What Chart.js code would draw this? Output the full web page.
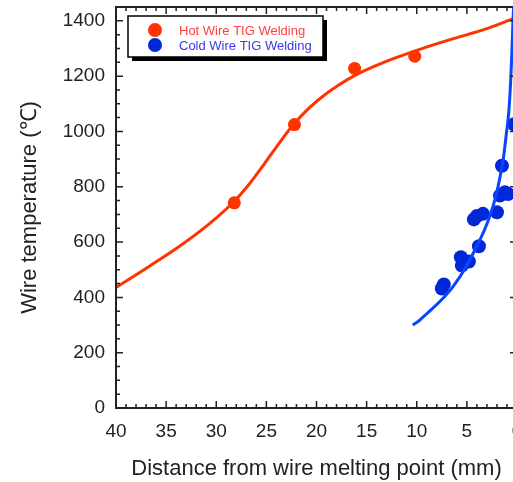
<!DOCTYPE html>
<html>
<head>
<meta charset="utf-8">
<script src="https://cdn.jsdelivr.net/npm/chart.js@4/dist/chart.umd.min.js"></script>
<style>
  html, body { margin: 0; padding: 0; background: #fff; overflow: hidden; }
  #wrap { width: 513px; height: 482px; overflow: hidden; }
  #box { width: 560px; height: 482px; }
</style>
</head>
<body>
<div id="wrap"><div id="box"><canvas id="myChart"></canvas></div></div>
<script>
// axis ticks
var xTicks = [40, 35, 30, 25, 20, 15, 10, 5, 0];
var yTicks = [0, 200, 400, 600, 800, 1000, 1200, 1400];

// hot wire: measured points + fitted curve
var hotX = [28.2, 22.2, 16.2, 10.2];
var hotY = [742, 1025, 1228, 1272];
var hotFitX = [40, 36.7, 33.7, 30.7, 28.3, 26.7, 25.2, 23.7, 22.3, 20.7, 19.2, 17.7, 16.2, 14.2, 12.2, 9.7, 6.4, 3.0, 0.5, 0];
var hotFitY = [436, 512, 584, 666, 744, 810, 883, 959, 1025, 1086, 1132, 1170, 1202, 1236, 1265, 1297, 1335, 1372, 1406, 1414];

// cold wire: measured points + fitted curve
var coldX = [7.5, 7.3, 5.6, 5.5, 4.8, 3.8, 4.3, 4.0, 3.4, 2.0, 1.7, 1.2, 0.9, 1.5, 0.3];
var coldY = [432, 447, 545, 515, 530, 585, 682, 694, 702, 708, 768, 780, 774, 876, 1026];
var coldFitX = [10.4, 9.7, 6.4, 3.7, 2.4, 1.5, 1.1, 0.8, 0.55, 0.4, 0.3];
var coldFitY = [300, 318, 438, 608, 728, 872, 980, 1080, 1250, 1400, 1480];

var hotColor = '#ff3300';
var coldColor = '#0028d8';
var coldLine = '#0a44ff';
var font = '"Liberation Sans", Arial, sans-serif';

function pts(xs, ys) {
  return xs.map(function (x, i) { return { x: x, y: ys[i] }; });
}

// frame + inward ticks on all four sides, and the boxed legend
var framePlugin = {
  id: 'frame',
  afterDraw: function (chart) {
    var ctx = chart.ctx;
    var a = chart.chartArea;
    var xs = chart.scales.x, ys = chart.scales.y;
    ctx.save();
    ctx.strokeStyle = '#222';
    ctx.lineWidth = 1.5;
    for (var v = 0; v <= 40; v++) {
      var px = xs.getPixelForValue(v);
      var len = v % 5 === 0 ? 7 : 4;
      ctx.beginPath();
      ctx.moveTo(px, a.bottom); ctx.lineTo(px, a.bottom - len);
      ctx.moveTo(px, a.top); ctx.lineTo(px, a.top + len);
      ctx.stroke();
    }
    for (var w = 0; w <= 1450; w += 50) {
      var py = ys.getPixelForValue(w);
      var l2 = w % 200 === 0 ? 7 : 4;
      ctx.beginPath();
      ctx.moveTo(a.left, py); ctx.lineTo(a.left + l2, py);
      ctx.moveTo(a.right, py); ctx.lineTo(a.right - l2, py);
      ctx.stroke();
    }
    ctx.lineWidth = 2;
    ctx.strokeRect(a.left, a.top, a.right - a.left, a.bottom - a.top);

    // legend box
    var bx = 128, by = 16, bw = 195, bh = 41;
    ctx.fillStyle = '#000';
    ctx.fillRect(bx + 4, by + 4, bw, bh);
    ctx.fillStyle = '#fff';
    ctx.fillRect(bx, by, bw, bh);
    ctx.lineWidth = 1.5;
    ctx.strokeStyle = '#000';
    ctx.strokeRect(bx, by, bw, bh);
    var items = [
      { label: chart.data.datasets[2].label, color: hotColor, text: '#ff4040' },
      { label: chart.data.datasets[1].label, color: coldColor, text: '#3a3ae6' }
    ];
    ctx.font = '13px ' + font;
    ctx.textBaseline = 'middle';
    items.forEach(function (it, i) {
      var cy = by + 14 + i * 15;
      ctx.fillStyle = it.color;
      ctx.beginPath();
      ctx.arc(bx + 27, cy, 7, 0, Math.PI * 2);
      ctx.fill();
      ctx.fillStyle = it.text;
      ctx.fillText(it.label, bx + 51, cy + 1);
    });
    ctx.restore();
  }
};

var config = {
  type: 'scatter',
  data: {
    datasets: [
      { label: 'Cold fit', data: pts(coldFitX, coldFitY), showLine: true, pointRadius: 0,
        borderColor: coldLine, borderWidth: 3, tension: 0.4, order: 0 },
      { label: 'Cold Wire TIG Welding', data: pts(coldX, coldY), pointRadius: 7,
        backgroundColor: coldColor, borderColor: coldColor, borderWidth: 0, order: 1 },
      { label: 'Hot Wire TIG Welding', data: pts(hotX, hotY), pointRadius: 6.5,
        backgroundColor: hotColor, borderColor: hotColor, borderWidth: 0, order: 2 },
      { label: 'Hot fit', data: pts(hotFitX, hotFitY), showLine: true, pointRadius: 0,
        borderColor: hotColor, borderWidth: 3, cubicInterpolationMode: 'monotone', order: 3 }
    ]
  },
  options: {
    responsive: true,
    maintainAspectRatio: false,
    animation: false,
    events: [],
    layout: { padding: { left: 0, right: 43, top: 7, bottom: 0 } },
    plugins: { legend: { display: false }, tooltip: { enabled: false } },
    scales: {
      x: {
        type: 'linear', reverse: true, min: 0, max: 40,
        afterBuildTicks: function (s) { s.ticks = xTicks.map(function (v) { return { value: v }; }); },
        afterFit: function (s) { s.height = 74; s.paddingLeft = 0; s.paddingRight = 0; },
        grid: { display: false, drawTicks: false },
        border: { display: false },
        ticks: { color: '#222', padding: 12, maxRotation: 0, autoSkip: false,
          callback: function (v) { return String(v); },
          font: { family: font, size: 19 } },
        title: { display: true, text: 'Distance from wire melting point (mm)', color: '#222',
          padding: { top: 9, bottom: 0 },
          font: { family: font, size: 22 } }
      },
      y: {
        type: 'linear', min: 0, max: 1450,
        afterBuildTicks: function (s) { s.ticks = yTicks.map(function (v) { return { value: v }; }); },
        afterFit: function (s) { s.width = 116; s.paddingTop = 0; s.paddingBottom = 0; },
        grid: { display: false, drawTicks: false },
        border: { display: false },
        ticks: { color: '#222', padding: 11, autoSkip: false,
          callback: function (v) { return String(v); },
          font: { family: font, size: 19 } },
        title: { display: true, text: 'Wire temperature (℃)', color: '#222',
          padding: { top: 17, bottom: 0 },
          font: { family: font, size: 22 } }
      }
    }
  },
  plugins: [framePlugin]
};

var myChart = new Chart(document.getElementById('myChart'), config);
</script>
</body>
</html>
